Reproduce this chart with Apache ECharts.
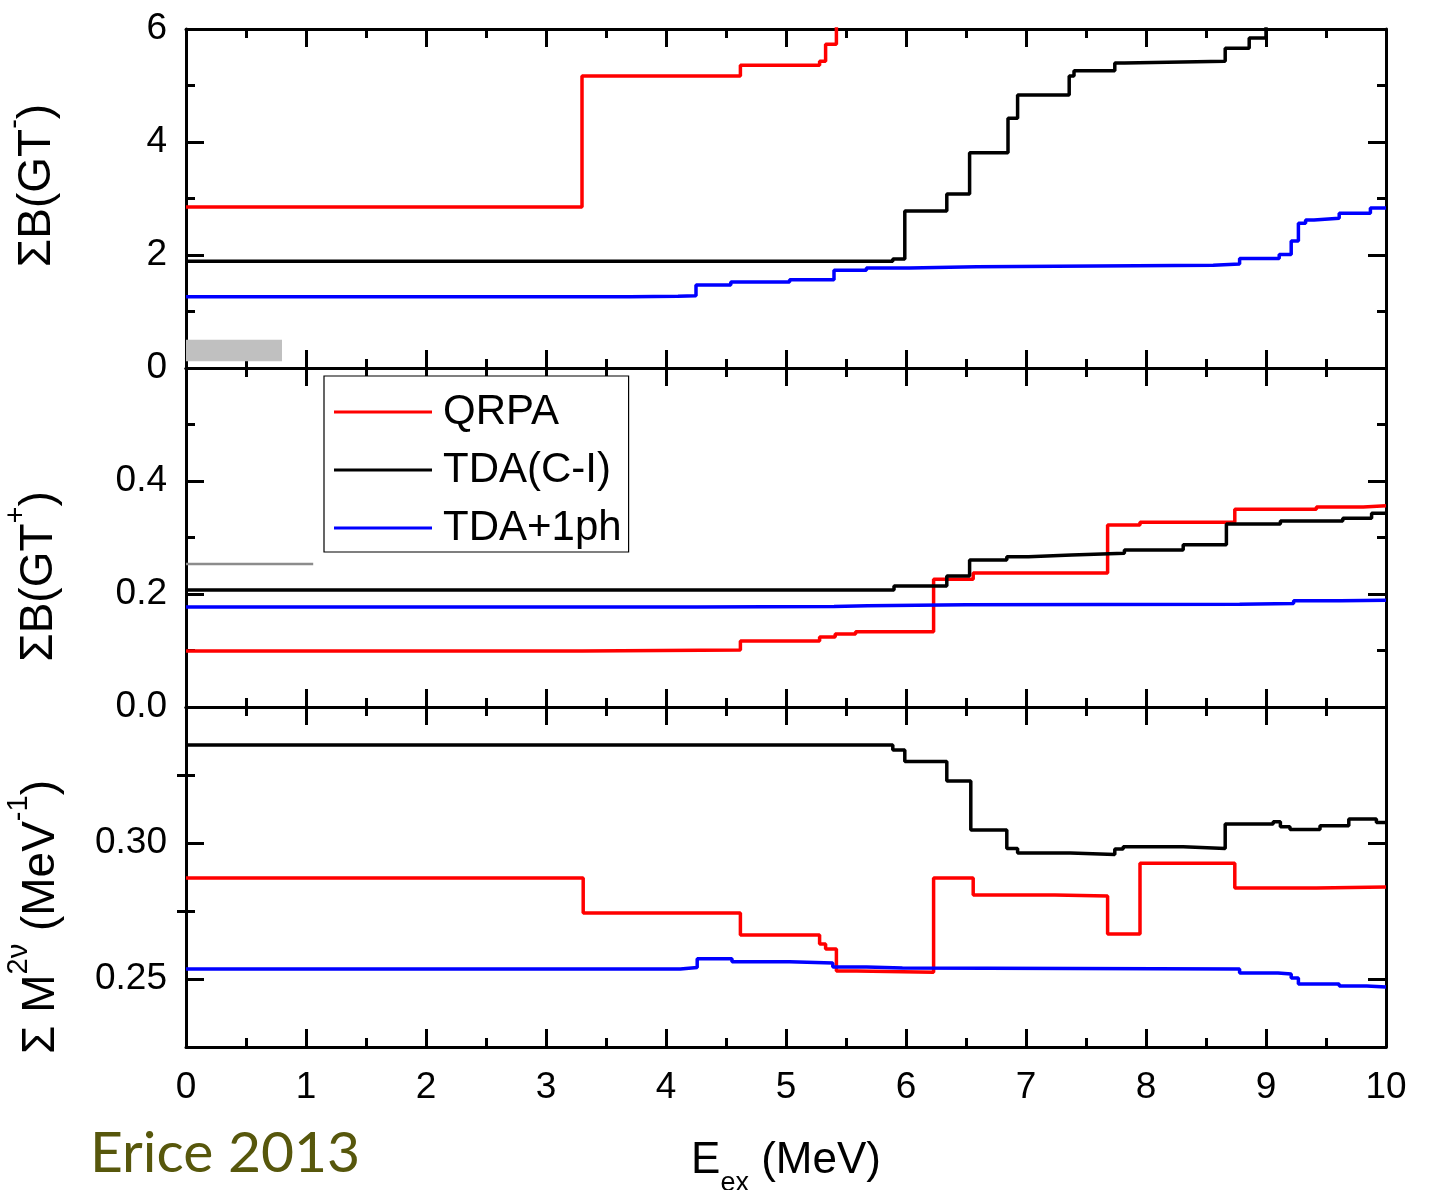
<!DOCTYPE html>
<html>
<head>
<meta charset="utf-8">
<script src="https://cdn.jsdelivr.net/npm/echarts@6/dist/echarts.min.js"></script>
<style>
html,body{margin:0;padding:0;background:#fff;}
#main{width:1438px;height:1190px;}
</style>
</head>
<body>
<div id="main"></div>
<script>
// ---- Data (E_ex in MeV, cumulative values; each point = value from that energy onward) ----
var seriesNames = ['QRPA', 'TDA(C-I)', 'TDA+1ph'];
var xTicks = [0, 1, 2, 3, 4, 5, 6, 7, 8, 9, 10];

// Panel 1: sum B(GT-)
var qrpaGTm = [[0,2.85],[3.3,5.17],[4.62,5.36],[5.28,5.43],[5.33,5.73],[5.42,6.5],[10,6.5]];
var tdaGTm = [[0,1.89],[5.89,1.93],[5.99,2.78],[6.34,3.08],[6.53,3.81],[6.85,4.42],[6.93,4.83],[7.36,5.17],[7.40,5.26],[7.74,5.40],[7.82,5.43],[8.66,5.66],[8.86,5.84],[9.0,6.5],[10,6.5]];
var tdaphGTm = [[0,1.26],[3.7,1.27],[4.1,1.28],[4.25,1.47],[4.54,1.52],[5.03,1.56],[5.4,1.73],[5.67,1.77],[6.03,1.79],[6.59,1.81],[7.92,1.82],[8.56,1.84],[8.78,1.94],[9.11,2.01],[9.21,2.25],[9.27,2.56],[9.33,2.62],[9.4,2.65],[9.61,2.74],[9.87,2.83],[10,2.83]];
var expGTmBox = [0, 0.8, 0.12, 0.5]; // x0, x1, y0, y1 (grey experimental band)

// Panel 2: sum B(GT+)
var qrpaGTp = [[0,0.099],[3.3,0.101],[4.62,0.117],[5.28,0.124],[5.41,0.129],[5.58,0.133],[6.23,0.226],[6.56,0.237],[7.68,0.322],[7.95,0.327],[8.74,0.350],[9.42,0.354],[9.81,0.356],[10,0.356]];
var tdaGTp = [[0,0.207],[5.9,0.214],[6.34,0.232],[6.53,0.260],[6.84,0.266],[7.02,0.269],[7.38,0.272],[7.82,0.278],[8.31,0.287],[8.67,0.324],[9.12,0.329],[9.64,0.334],[9.88,0.343],[10,0.345]];
var tdaphGTp = [[0,0.177],[4.26,0.178],[5.4,0.179],[5.68,0.181],[6.5,0.182],[8.78,0.183],[9.23,0.188],[9.62,0.189],[10,0.19]];
var expGTp = [[0,0.253],[1.06,0.253]];

// Panel 3: sum M2nu (MeV^-1)
var qrpaM = [[0,0.2871],[3.31,0.2743],[4.62,0.2662],[5.28,0.2629],[5.33,0.261],[5.42,0.2529],[5.59,0.2525],[6.23,0.2871],[6.56,0.2809],[7.24,0.2805],[7.68,0.2665],[7.95,0.2926],[8.74,0.2835],[9.42,0.2838],[10,0.2838]];
var tdaM = [[0,0.336],[5.89,0.3342],[5.99,0.330],[6.34,0.3228],[6.54,0.3048],[6.84,0.298],[6.93,0.2963],[7.37,0.2958],[7.74,0.2978],[7.81,0.2986],[8.31,0.298],[8.66,0.307],[9.06,0.3078],[9.12,0.306],[9.2,0.305],[9.45,0.3063],[9.69,0.3088],[9.92,0.3075],[10,0.3075]];
var tdaphM = [[0,0.2537],[4.12,0.2542],[4.26,0.2574],[4.55,0.2563],[5.03,0.2559],[5.39,0.2544],[5.67,0.254],[5.97,0.2537],[8.78,0.2522],[9.1,0.2518],[9.21,0.2504],[9.27,0.2482],[9.61,0.2474],[9.84,0.2471],[10,0.2471]];

var yTicks1 = [0, 2, 4, 6];
var yTicks2 = [0.0, 0.2, 0.4];
var yTicks3 = [0.25, 0.30];
var yMinor3 = [0.275, 0.325];

// ---- Styling ----
var FONT = '"Liberation Sans", Arial, sans-serif';
var colors = {'QRPA': '#ff0000', 'TDA(C-I)': '#000000', 'TDA+1ph': '#0000ff'};
var LW = 3.5;

var chart = echarts.init(document.getElementById('main'), null, {renderer: 'canvas'});

var grids = [
  {left: 186, top: 29, width: 1200, height: 339, outerBoundsMode: 'none', containLabel: false},
  {left: 186, top: 368, width: 1200, height: 339, outerBoundsMode: 'none', containLabel: false},
  {left: 186, top: 707, width: 1200, height: 340, outerBoundsMode: 'none', containLabel: false}
];

var axisLineStyle = {show: true, onZero: false, lineStyle: {color: '#000', width: 3}};
function xAx(g, pos, showLabels) {
  var a = {
    type: 'value', gridIndex: g, position: pos, min: 0, max: 10, interval: 1,
    axisLine: axisLineStyle,
    axisTick: {show: true, inside: true, length: 18, lineStyle: {width: 3, color: '#000'}},
    minorTick: {show: true, splitNumber: 2, length: 9, lineStyle: {width: 3, color: '#000'}},
    splitLine: {show: false}, minorSplitLine: {show: false},
    axisLabel: {show: showLabels, fontSize: 37, fontFamily: FONT, color: '#000', margin: 22}
  };
  if (showLabels && pos === 'bottom') {
    a.name = '{e|E}{sub|ex}{e| (MeV)}';
    a.nameLocation = 'middle';
    a.nameGap = 86;
    a.nameTextStyle = {
      fontFamily: FONT, color: '#000', fontSize: 44,
      rich: {
        e: {fontSize: 44, fontFamily: FONT, color: '#000', lineHeight: 50, verticalAlign: 'bottom'},
        sub: {fontSize: 27, fontFamily: FONT, color: '#000', lineHeight: 50, verticalAlign: 'bottom', padding: [0, 0, -14, 0]}
      }
    };
  }
  return a;
}
function yAxBase(g, pos, min, max, interval, labels, labelFmt) {
  return {
    type: 'value', gridIndex: g, position: pos, min: min, max: max, interval: interval,
    axisLine: axisLineStyle,
    axisTick: {show: true, inside: true, length: 18, lineStyle: {width: 3, color: '#000'}},
    minorTick: {show: true, splitNumber: 2, length: 9, lineStyle: {width: 3, color: '#000'}},
    splitLine: {show: false}, minorSplitLine: {show: false},
    axisLabel: {show: labels, fontSize: 37, fontFamily: FONT, color: '#000', margin: 19, formatter: labelFmt}
  };
}

var nameRich = {
  m: {fontSize: 46, fontFamily: FONT, color: '#000', lineHeight: 52, verticalAlign: 'bottom'},
  sup: {fontSize: 29, fontFamily: FONT, color: '#000', lineHeight: 52, verticalAlign: 'top', padding: [-8, 0, 0, 0]}
};

var y0 = yAxBase(0, 'left', 0, 6, 2, true, function (v) { return yTicks1.indexOf(v) >= 0 ? String(v) : ''; });
y0.name = '{m|ΣB(GT}{sup|-}{m|)}';
y0.nameLocation = 'middle'; y0.nameRotate = 90; y0.nameGap = 126;
y0.nameTextStyle = {rich: nameRich, padding: [0, 0, 0, 26]};
var y0r = yAxBase(0, 'right', 0, 6, 2, false);

var y1 = yAxBase(1, 'left', 0, 0.6, 0.2, true, function (v) {
  for (var i = 0; i < yTicks2.length; i++) if (Math.abs(v - yTicks2[i]) < 1e-9) return v.toFixed(1);
  return '';
});
y1.name = '{m|ΣB(GT}{sup|+}{m|)}';
y1.nameLocation = 'middle'; y1.nameRotate = 90; y1.nameGap = 124;
y1.nameTextStyle = {rich: nameRich, padding: [0, 78, 0, 0]};
var y1r = yAxBase(1, 'right', 0, 0.6, 0.2, false);

function y3(pos, withLabels) {
  var a = yAxBase(2, pos, 0.225, 0.35, null, withLabels, function (v) { return v.toFixed(2); });
  delete a.interval;
  a.minorTick = {show: false};
  a.axisTick.customValues = yTicks3;
  a.axisLabel.customValues = yTicks3;
  return a;
}
function y3minor(pos) {
  return {
    type: 'value', gridIndex: 2, position: pos, min: 0.225, max: 0.35,
    axisLine: {show: false}, splitLine: {show: false},
    axisTick: {show: true, inside: true, length: 9, customValues: yMinor3, lineStyle: {width: 3, color: '#000'}},
    axisLabel: {show: false}
  };
}
var y2 = y3('left', true);
y2.name = '{m|Σ M}{sup|2ν}{m| (MeV}{sup|-1}{m|)}';
y2.nameLocation = 'middle'; y2.nameRotate = 90; y2.nameGap = 122;
y2.nameTextStyle = {rich: nameRich, padding: [0, 80, 0, 0]};
var y2r = y3('right', false);

var xAxes = [xAx(0, 'bottom', false), xAx(0, 'top', false),
             xAx(1, 'bottom', false), xAx(1, 'top', false),
             xAx(2, 'bottom', true), xAx(2, 'top', false)];
var yAxes = [y0, y0r, y1, y1r, y2, y2r, y3minor('left'), y3minor('right')];

function lineSeries(name, data, g, yIdx) {
  return {
    name: name, type: 'line', step: 'end', data: data,
    xAxisIndex: g * 2, yAxisIndex: yIdx,
    showSymbol: false, symbol: 'none', clip: true,
    lineStyle: {color: colors[name], width: LW},
    itemStyle: {color: colors[name]},
    z: 5, animation: false
  };
}

var series = [
  lineSeries('QRPA', qrpaGTm, 0, 0),
  lineSeries('TDA(C-I)', tdaGTm, 0, 0),
  lineSeries('TDA+1ph', tdaphGTm, 0, 0),
  lineSeries('QRPA', qrpaGTp, 1, 2),
  lineSeries('TDA(C-I)', tdaGTp, 1, 2),
  lineSeries('TDA+1ph', tdaphGTp, 1, 2),
  lineSeries('QRPA', qrpaM, 2, 4),
  lineSeries('TDA(C-I)', tdaM, 2, 4),
  lineSeries('TDA+1ph', tdaphM, 2, 4),
  {
    name: 'expGTp', type: 'line', data: expGTp, xAxisIndex: 2, yAxisIndex: 2,
    showSymbol: false, symbol: 'none', lineStyle: {color: '#8c8c8c', width: 2.5}, z: 3, animation: false
  },
  {
    name: 'expGTm', type: 'custom', xAxisIndex: 0, yAxisIndex: 0, z: 2, animation: false,
    data: [expGTmBox],
    renderItem: function (params, api) {
      var p0 = api.coord([api.value(0), api.value(3)]);
      var p1 = api.coord([api.value(1), api.value(2)]);
      return {type: 'rect', shape: {x: p0[0], y: p0[1], width: p1[0] - p0[0], height: p1[1] - p0[1]},
              style: {fill: '#c0c0c0'}};
    }
  }
];

var option = {
  backgroundColor: '#ffffff',
  animation: false,
  grid: grids,
  xAxis: xAxes,
  yAxis: yAxes,
  legend: {
    data: seriesNames,
    orient: 'vertical',
    left: 324, top: 376,
    padding: [15, 7, 3, 10],
    itemGap: 16,
    itemWidth: 98, itemHeight: 3,
    icon: 'rect',
    borderColor: '#000', borderWidth: 1.2,
    backgroundColor: '#fff',
    selectedMode: false,
    textStyle: {fontSize: 42, fontFamily: FONT, color: '#000', lineHeight: 42, padding: [0, 0, 0, 6]}
  },
  graphic: [
    {type: 'text', left: 90, top: 1125, z: 10,
     style: {text: 'Erice 2013', fontSize: 57, fontFamily: 'Lato, "Open Sans", sans-serif', fill: '#57570c'}}
  ],
  series: series
};
chart.setOption(option);
</script>
</body>
</html>
